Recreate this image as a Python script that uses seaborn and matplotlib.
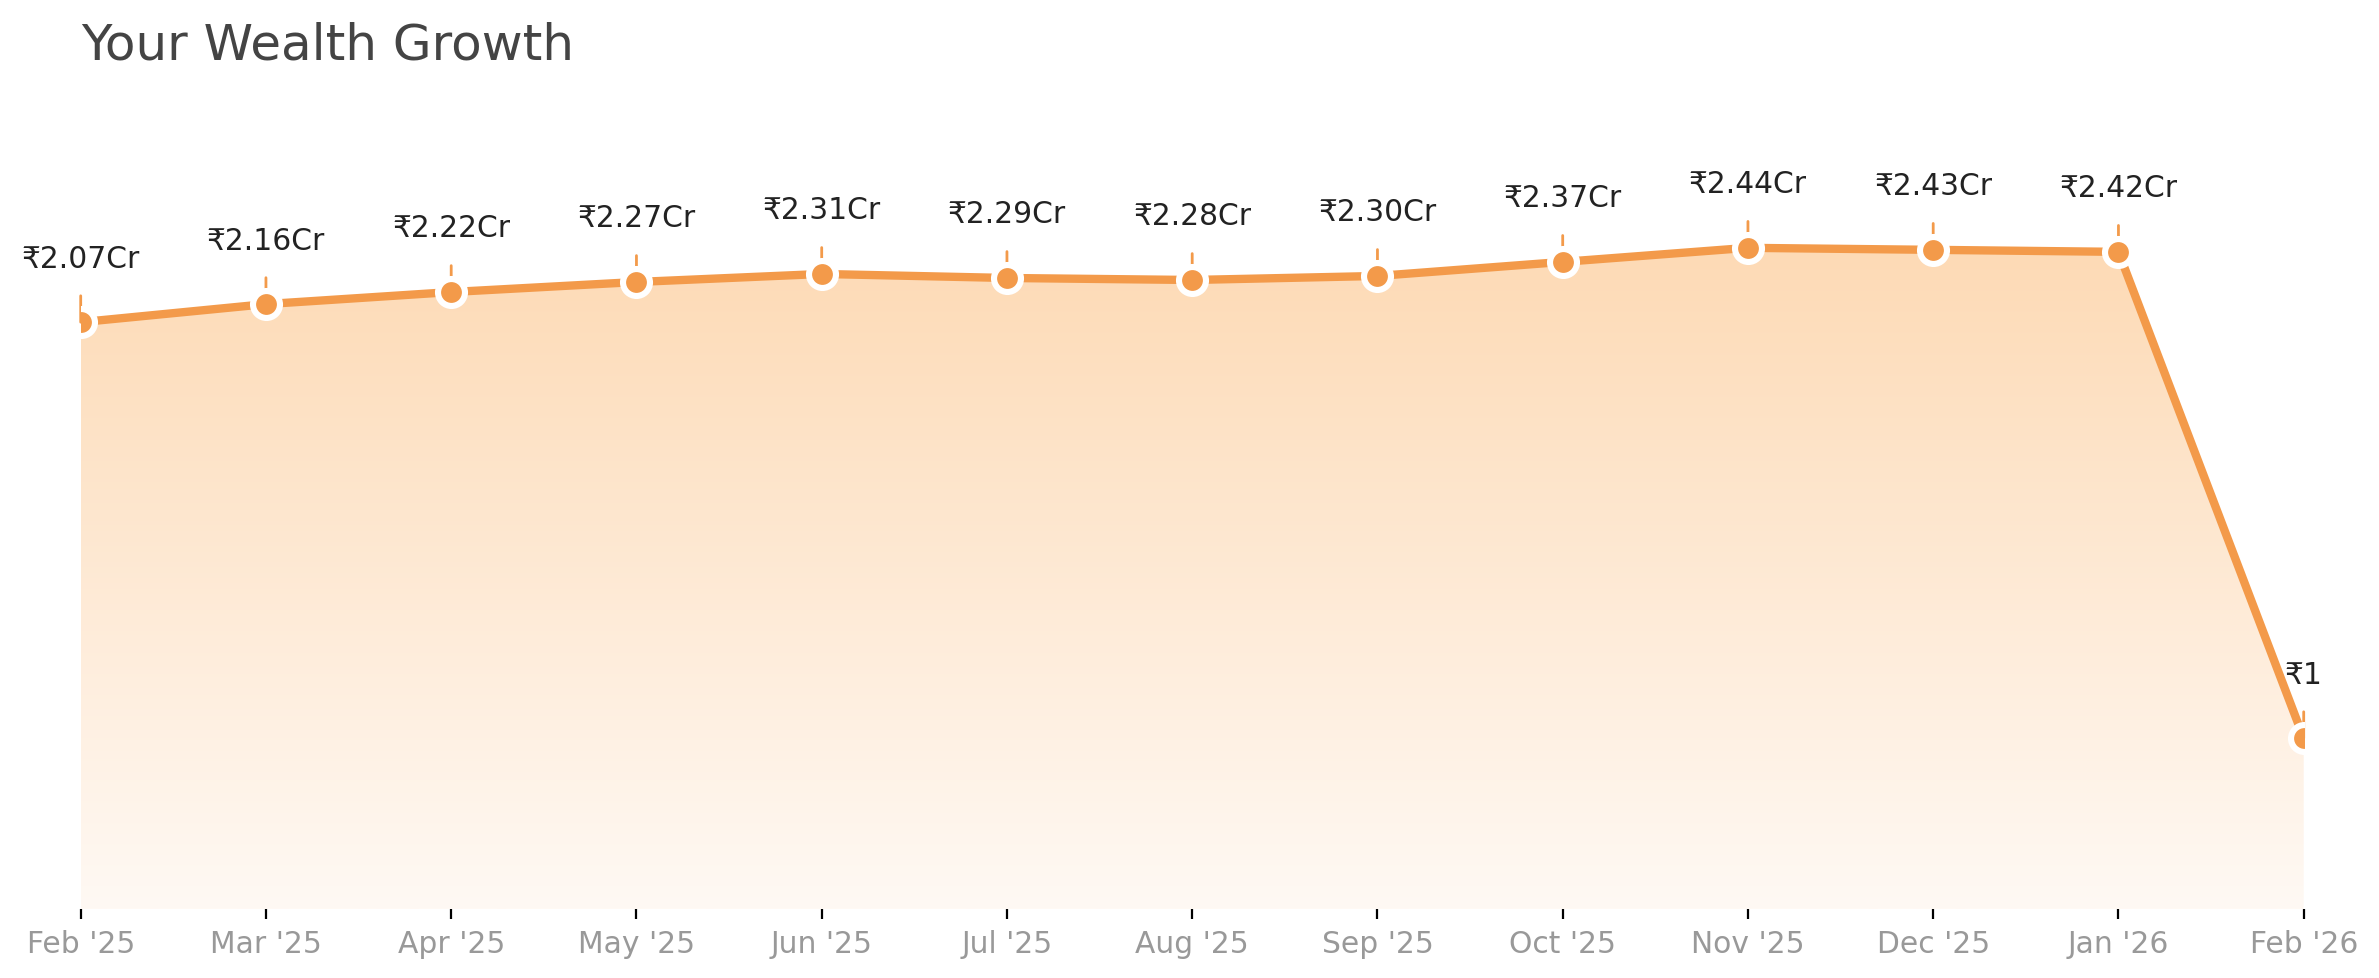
import matplotlib
matplotlib.use("Agg")
import matplotlib.pyplot as plt
from matplotlib.colors import LinearSegmentedColormap
import numpy as np
import pandas as pd
import seaborn as sns

# ---------------------------------------------------------
# Data
# ---------------------------------------------------------

months = [
    "Feb '25", "Mar '25", "Apr '25", "May '25", "Jun '25", "Jul '25",
    "Aug '25", "Sep '25", "Oct '25", "Nov '25", "Dec '25", "Jan '26",
    "Feb '26",
]

wealth = [
    20700000, 21600000, 22200000, 22700000, 23100000, 22900000,
    22800000, 23000000, 23700000, 24400000, 24300000, 24200000,
    1,
]

LINE_COLOR = "#F39A4A"
FILL_TOP = "#FDDAB5"
FILL_BOTTOM = "#FFF9F4"
DPI = 200


def fmt_inr(value):
    if value >= 1e7:
        return f"₹{value / 1e7:.2f}Cr"
    if value >= 1e5:
        return f"₹{value / 1e5:.2f}L"
    return f"₹{value:,.0f}"


sns.set_theme(style="white")
plt.rcParams["font.family"] = ["DejaVu Sans"]

df = pd.DataFrame({
    "pos": np.arange(len(months)),
    "month": months,
    "wealth": wealth,
})

fig = plt.figure(figsize=(2379 / DPI, 979 / DPI), dpi=DPI)
ax = fig.add_axes([
    80.7 / 2379,
    1 - 910 / 979,
    (2303.7 - 80.7) / 2379,
    (910 - 76) / 979,
])

y_lo, y_hi = -0.85e7, 3.30e7

# ---------------------------------------------------------
# Gradient area under the line
# ---------------------------------------------------------

area = ax.fill_between(df["pos"], df["wealth"], y_lo, color="none", lw=0)

cmap = LinearSegmentedColormap.from_list("peach", [FILL_BOTTOM, FILL_TOP])
grad = np.linspace(1, 0, 256)[:, None]

img = ax.imshow(
    grad,
    cmap=cmap,
    aspect="auto",
    origin="upper",
    extent=[df["pos"].min(), df["pos"].max(), y_lo, df["wealth"].max()],
    zorder=1,
)
img.set_clip_path(area.get_paths()[0], transform=ax.transData)

# ---------------------------------------------------------
# Line + markers
# ---------------------------------------------------------

sns.lineplot(
    data=df,
    x="pos",
    y="wealth",
    color=LINE_COLOR,
    linewidth=3,
    marker="o",
    markersize=9.7,
    markeredgecolor="white",
    markeredgewidth=2.2,
    zorder=4,
    ax=ax,
)

# ---------------------------------------------------------
# Value labels with stems
# ---------------------------------------------------------

for pos, val in zip(df["pos"], df["wealth"]):

    ax.annotate(
        "",
        xy=(pos, val),
        xytext=(0, 9.5),
        textcoords="offset points",
        arrowprops=dict(
            arrowstyle="-",
            color=LINE_COLOR,
            lw=1.0,
            shrinkA=0,
            shrinkB=0,
        ),
        zorder=3,
    )

    ax.annotate(
        fmt_inr(val),
        xy=(pos, val),
        xytext=(0, 20),
        textcoords="offset points",
        ha="center",
        va="baseline",
        fontsize=10.7,
        color="#222222",
        zorder=5,
    )

# ---------------------------------------------------------
# Axes styling
# ---------------------------------------------------------

ax.set_xlim(df["pos"].min(), df["pos"].max())
ax.set_ylim(y_lo, y_hi)

ax.set_xticks(df["pos"], months)
ax.set_yticks([])

ax.tick_params(
    axis="x",
    bottom=True,
    length=3.6,
    width=0.8,
    color="black",
    labelcolor="#999999",
    labelsize=10.7,
)

ax.set_xlabel("")
ax.set_ylabel("")

sns.despine(ax=ax, left=True, bottom=True)

ax.set_title(
    "Your Wealth Growth",
    loc="left",
    fontsize=18.0,
    color="#444444",
    pad=6,
)

fig.savefig("out.png", dpi=DPI)
